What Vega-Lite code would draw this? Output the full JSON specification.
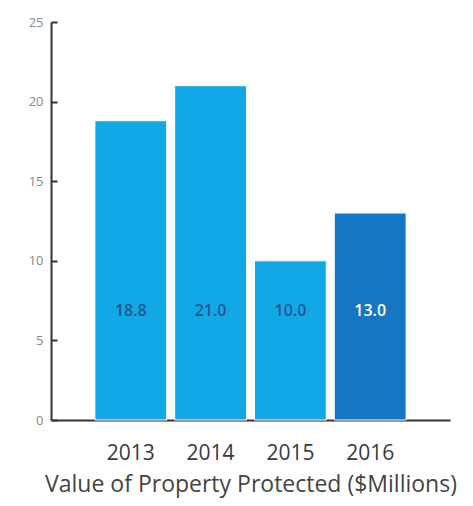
{
  "$schema": "https://vega.github.io/schema/vega-lite/v6.json",
  "width": 399,
  "height": 398,
  "autosize": {"type": "none"},
  "padding": {"left": 51, "top": 22, "right": 23, "bottom": 86},
  "background": "white",
  "config": {"view": {"stroke": null}, "font": "Open Sans"},
  "data": {"values": [
    {"year": "2013", "value": 18.8, "label": "18.8", "hl": "no"},
    {"year": "2014", "value": 21.0, "label": "21.0", "hl": "no"},
    {"year": "2015", "value": 10.0, "label": "10.0", "hl": "no"},
    {"year": "2016", "value": 13.0, "label": "13.0", "hl": "yes"}
  ]},
  "encoding": {
    "x": {
      "field": "year", "type": "nominal",
      "scale": {"paddingInner": 0.1, "paddingOuter": 0.55},
      "axis": {
        "title": "Value of Property Protected ($Millions)",
        "titleFontSize": 23, "titleFontWeight": "normal", "titleColor": "#444",
        "titlePadding": 10,
        "labelAngle": 0, "labelFontSize": 21, "labelColor": "#3a3a3a", "labelPadding": 22,
        "ticks": false, "domainColor": "#333", "domainWidth": 2
      }
    }
  },
  "layer": [
    {
      "mark": {"type": "bar", "stroke": "white", "strokeWidth": 1},
      "encoding": {
        "y": {
          "field": "value", "type": "quantitative",
          "scale": {"domain": [0, 25], "nice": false},
          "axis": {
            "title": null, "values": [0, 5, 10, 15, 20, 25],
            "grid": false, "labelFontSize": 13, "labelColor": "#888",
            "tickSize": -6, "tickColor": "#333", "tickWidth": 2,
            "labelPadding": 14, "domainColor": "#333", "domainWidth": 2
          }
        },
        "color": {
          "field": "hl", "type": "nominal",
          "scale": {"domain": ["no", "yes"], "range": ["#12a8e6", "#1577c4"]},
          "legend": null
        }
      }
    },
    {
      "mark": {"type": "text", "fontSize": 16, "fontWeight": 600},
      "encoding": {
        "y": {"datum": 6.85},
        "text": {"field": "label"},
        "color": {
          "field": "hl", "type": "nominal",
          "scale": {"domain": ["no", "yes"], "range": ["#1d5a95", "#ffffff"]},
          "legend": null
        }
      }
    }
  ],
  "resolve": {"scale": {"color": "independent"}}
}
